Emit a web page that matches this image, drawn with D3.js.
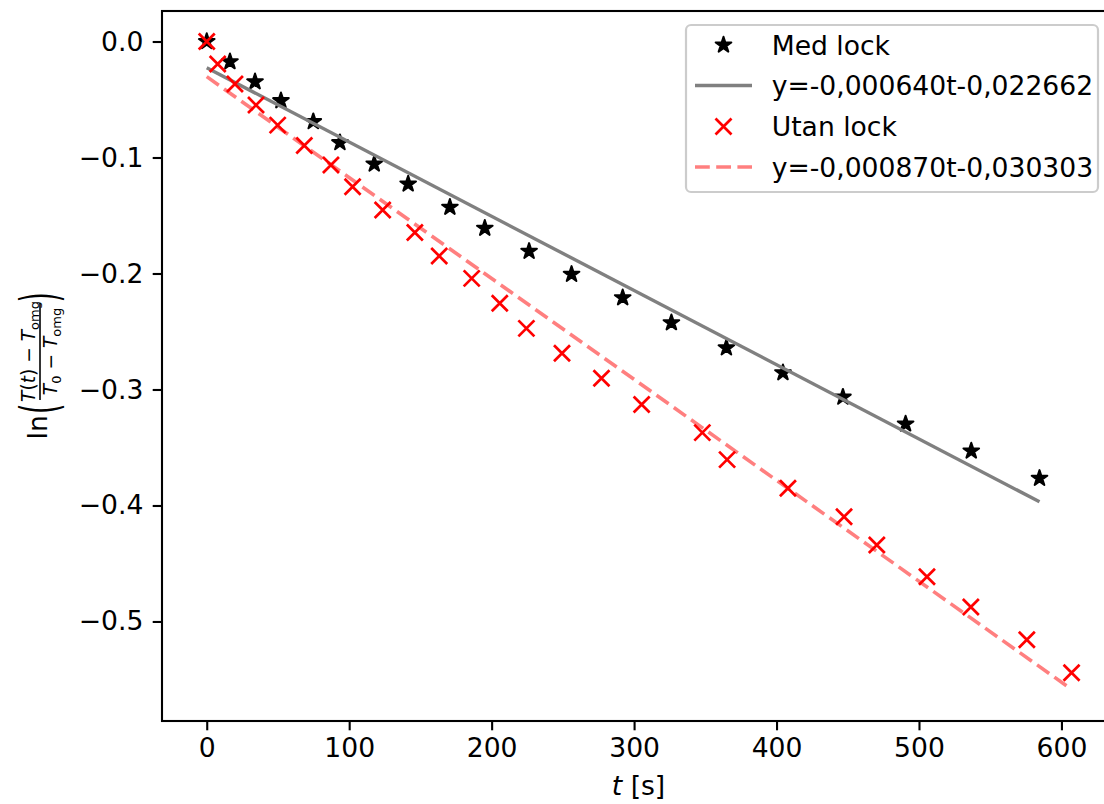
<!DOCTYPE html>
<html>
<head>
<meta charset="utf-8">
<script src="https://cdn.jsdelivr.net/npm/d3@7"></script>
<style>
    body { margin: 0; background: #fff; }
    svg { display: block; font-family: 'DejaVu Sans', sans-serif; }
    .axis text { font-size: 26.6px; fill: #000; font-family: 'DejaVu Sans', sans-serif; }
    .axis line { stroke: #000; stroke-width: 2.1px; }
    .legend text { font-size: 26.6px; fill: #000; }
</style>
</head>
<body>
<div id="chart"></div>
<script>

// "Med lock" measurements (stars)
var medLockT = [0, 16.3, 33.9, 52.1, 74.8, 93.5, 117.6, 141.4, 170.7, 195.2, 226.3, 256.1, 292.0, 326.2, 364.8, 404.5, 446.6, 490.6, 536.7, 584.6];
var medLockY = [0, -0.0174, -0.0347, -0.0510, -0.0691, -0.0872, -0.1056, -0.1228, -0.1429, -0.1610, -0.1809, -0.2007, -0.2209, -0.2424, -0.2641, -0.2855, -0.3066, -0.3297, -0.3530, -0.3766];

// "Utan lock" measurements (crosses)
var utanLockT = [0, 7.7, 19.8, 34.6, 49.8, 68.5, 87.2, 102.4, 123.5, 146.1, 163.2, 186.0, 205.7, 224.4, 249.4, 277.1, 305.3, 347.9, 365.3, 408.0, 447.4, 470.4, 505.6, 536.4, 575.7, 607.1];
var utanLockY = [0, -0.0194, -0.0366, -0.0548, -0.0721, -0.0897, -0.1065, -0.1252, -0.1453, -0.1647, -0.1849, -0.2042, -0.2257, -0.2473, -0.2688, -0.2903, -0.3129, -0.3372, -0.3605, -0.3852, -0.4097, -0.4340, -0.4614, -0.4875, -0.5157, -0.5442];

// linear fits as given in the legend
var fitSlope = [-0.000640, -0.000870];
var fitIntercept = [-0.022662, -0.030303];

var legendLabels = ['Med lock', 'y=-0,000640t-0,022662', 'Utan lock', 'y=-0,000870t-0,030303'];

var xTicks = [0, 100, 200, 300, 400, 500, 600];
var yTicks = [0, -0.1, -0.2, -0.3, -0.4, -0.5];


class DecayChart {

    constructor() {

        this._width = 1104;
        this._height = 804;

        this._plot = { left: 162, top: 11, right: 1115, bottom: 721 };

        this._xDomain = [-31.4, 637.6];
        this._yDomain = [-0.5858, 0.0263];

        this._tick = 9.3;
        this._starSize = 76;
    }


    renderTo(selector) {

        this._svg = d3.select(selector)
            .append('svg')
            .attr('width', this._width)
            .attr('height', this._height);

        var x = this._getXScale();
        var y = this._getYScale();

        this._drawAxes(x, y);

        var medPoints = medLockT.map((t, i) => ({ t: t, v: medLockY[i] }));
        var utanPoints = utanLockT.map((t, i) => ({ t: t, v: utanLockY[i] }));

        var canvas = this._svg.append('g');

        // stars
        canvas.selectAll('path.star')
            .data(medPoints)
            .enter()
            .append('path')
            .attr('class', 'star')
            .attr('transform', d => 'translate(' + [x(d.t), y(d.v)] + ')')
            .attr('d', d3.symbol(d3.symbolStar).size(this._starSize))
            .style('fill', '#000')
            .style('stroke', '#000')
            .style('stroke-width', 2)
            .style('stroke-linejoin', 'round');

        this._fitLine(canvas, 0, d3.extent(medLockT), x, y)
            .style('stroke', '#808080')
            .style('stroke-width', 3.4);

        // crosses
        canvas.selectAll('path.cross')
            .data(utanPoints)
            .enter()
            .append('path')
            .attr('class', 'cross')
            .attr('transform', d => 'translate(' + [x(d.t), y(d.v)] + ')')
            .attr('d', d3.symbol(this._crossType()).size(256))
            .style('fill', 'none')
            .style('stroke', '#ff0000')
            .style('stroke-width', 2.7);

        this._fitLine(canvas, 1, d3.extent(utanLockT), x, y)
            .style('stroke', '#ff0000')
            .style('stroke-opacity', 0.5)
            .style('stroke-width', 3.6)
            .style('stroke-dasharray', '14.8 6.4');

        this._drawLegend();
        this._drawLabels();

        return this;
    }


    _fitLine(canvas, k, range, x, y) {

        var ends = range.map(t => ({ t: t, v: fitSlope[k] * t + fitIntercept[k] }));

        return canvas.append('path')
            .datum(ends)
            .attr('d', d3.line().x(d => x(d.t)).y(d => y(d.v)))
            .style('fill', 'none');
    }


    _crossType() {

        return {
            draw: function(context, size) {
                var r = Math.sqrt(size) / 2;
                context.moveTo(-r, -r);
                context.lineTo(r, r);
                context.moveTo(r, -r);
                context.lineTo(-r, r);
            }
        };
    }


    _drawAxes(x, y) {

        var p = this._plot;

        this._svg.append('g')
            .attr('class', 'axis x-axis')
            .attr('transform', 'translate(0,' + p.bottom + ')')
            .call(d3.axisBottom(x)
                .tickValues(xTicks)
                .tickFormat(d3.format('d'))
                .tickSize(this._tick)
                .tickPadding(7.5))
            .call(g => g.select('.domain').remove());

        this._svg.append('g')
            .attr('class', 'axis y-axis')
            .attr('transform', 'translate(' + p.left + ',0)')
            .call(d3.axisLeft(y)
                .tickValues(yTicks)
                .tickFormat(d3.format('.1f'))
                .tickSize(this._tick)
                .tickPadding(this._tick))
            .call(g => g.select('.domain').remove());

        this._svg.append('rect')
            .attr('x', p.left)
            .attr('y', p.top)
            .attr('width', p.right - p.left)
            .attr('height', p.bottom - p.top)
            .style('fill', 'none')
            .style('stroke', '#000')
            .style('stroke-width', 2.1);
    }


    _drawLegend() {

        var legend = this._svg.append('g')
            .attr('class', 'legend');

        legend.append('rect')
            .attr('x', 686)
            .attr('y', 25)
            .attr('width', 412)
            .attr('height', 167)
            .attr('rx', 5)
            .style('fill', '#fff')
            .style('fill-opacity', 0.8)
            .style('stroke', '#cccccc')
            .style('stroke-width', 2.2);

        var rowY = [45, 85.5, 126.5, 167];
        var hx = [695, 752];
        var hc = (hx[0] + hx[1]) / 2;

        var rows = legend.selectAll('g.row')
            .data(legendLabels)
            .enter()
            .append('g')
            .attr('class', 'row')
            .attr('transform', (d, i) => 'translate(0,' + rowY[i] + ')');

        rows.append('text')
            .attr('x', 771.7)
            .attr('dy', '0.365em')
            .text(d => d);

        legend.append('path')
            .attr('transform', 'translate(' + [hc, rowY[0]] + ')')
            .attr('d', d3.symbol(d3.symbolStar).size(this._starSize))
            .style('fill', '#000')
            .style('stroke', '#000')
            .style('stroke-width', 2)
            .style('stroke-linejoin', 'round');

        legend.append('line')
            .attr('x1', hx[0]).attr('x2', hx[1])
            .attr('y1', rowY[1]).attr('y2', rowY[1])
            .style('stroke', '#808080')
            .style('stroke-width', 3.4);

        legend.append('path')
            .attr('transform', 'translate(' + [hc, rowY[2]] + ')')
            .attr('d', d3.symbol(this._crossType()).size(256))
            .style('fill', 'none')
            .style('stroke', '#ff0000')
            .style('stroke-width', 2.7);

        legend.append('line')
            .attr('x1', hx[0]).attr('x2', hx[1])
            .attr('y1', rowY[3]).attr('y2', rowY[3])
            .style('stroke', '#ff0000')
            .style('stroke-opacity', 0.5)
            .style('stroke-width', 3.6)
            .style('stroke-dasharray', '14.8 6.4');
    }


    _drawLabels() {

        var p = this._plot;

        // x label: $t$ [s]
        var xl = this._svg.append('text')
            .attr('x', (p.left + p.right) / 2)
            .attr('y', 795)
            .attr('text-anchor', 'middle')
            .style('font-size', '26.6px');
        xl.append('tspan').style('font-style', 'italic').text('t');
        xl.append('tspan').text(' [s]');

        // y label: ln( (T(t) - T_omg) / (T_0 - T_omg) ), rotated
        var g = this._svg.append('g')
            .attr('transform', 'translate(47,' + (p.top + p.bottom) / 2 + ') rotate(-90)');

        g.append('text')
            .attr('x', -73.5)
            .attr('y', 0)
            .style('font-size', '26.6px')
            .text('ln');

        g.append('text')
            .attr('transform', 'translate(-48,10) scale(1,1.95)')
            .style('font-size', '26.6px')
            .text('(');

        g.append('text')
            .attr('transform', 'translate(63.5,10) scale(1,1.95)')
            .style('font-size', '26.6px')
            .text(')');

        g.append('line')
            .attr('x1', -34).attr('x2', 63)
            .attr('y1', -7).attr('y2', -7)
            .style('stroke', '#000')
            .style('stroke-width', 1.6);

        var num = g.append('text')
            .attr('x', 14.5)
            .attr('y', -12)
            .attr('text-anchor', 'middle')
            .style('font-size', '18.6px');
        num.append('tspan').style('font-style', 'italic').text('T');
        num.append('tspan').text('(');
        num.append('tspan').style('font-style', 'italic').text('t');
        num.append('tspan').text(') \u2212 ');
        num.append('tspan').style('font-style', 'italic').text('T');
        num.append('tspan').attr('dy', 3.5).style('font-size', '13px').text('omg');

        var den = g.append('text')
            .attr('x', 14.5)
            .attr('y', 10)
            .attr('text-anchor', 'middle')
            .style('font-size', '18.6px');
        den.append('tspan').style('font-style', 'italic').text('T');
        den.append('tspan').attr('dy', 3.5).style('font-size', '13px').text('0');
        den.append('tspan').attr('dy', -3.5).text(' \u2212 ');
        den.append('tspan').style('font-style', 'italic').text('T');
        den.append('tspan').attr('dy', 3.5).style('font-size', '13px').text('omg');
    }


    _getXScale() {

        return d3.scaleLinear()
            .domain(this._xDomain)
            .range([this._plot.left, this._plot.right]);
    }


    _getYScale() {

        return d3.scaleLinear()
            .domain(this._yDomain)
            .range([this._plot.bottom, this._plot.top]);
    }
}


new DecayChart().renderTo('#chart');

</script>
</body>
</html>
